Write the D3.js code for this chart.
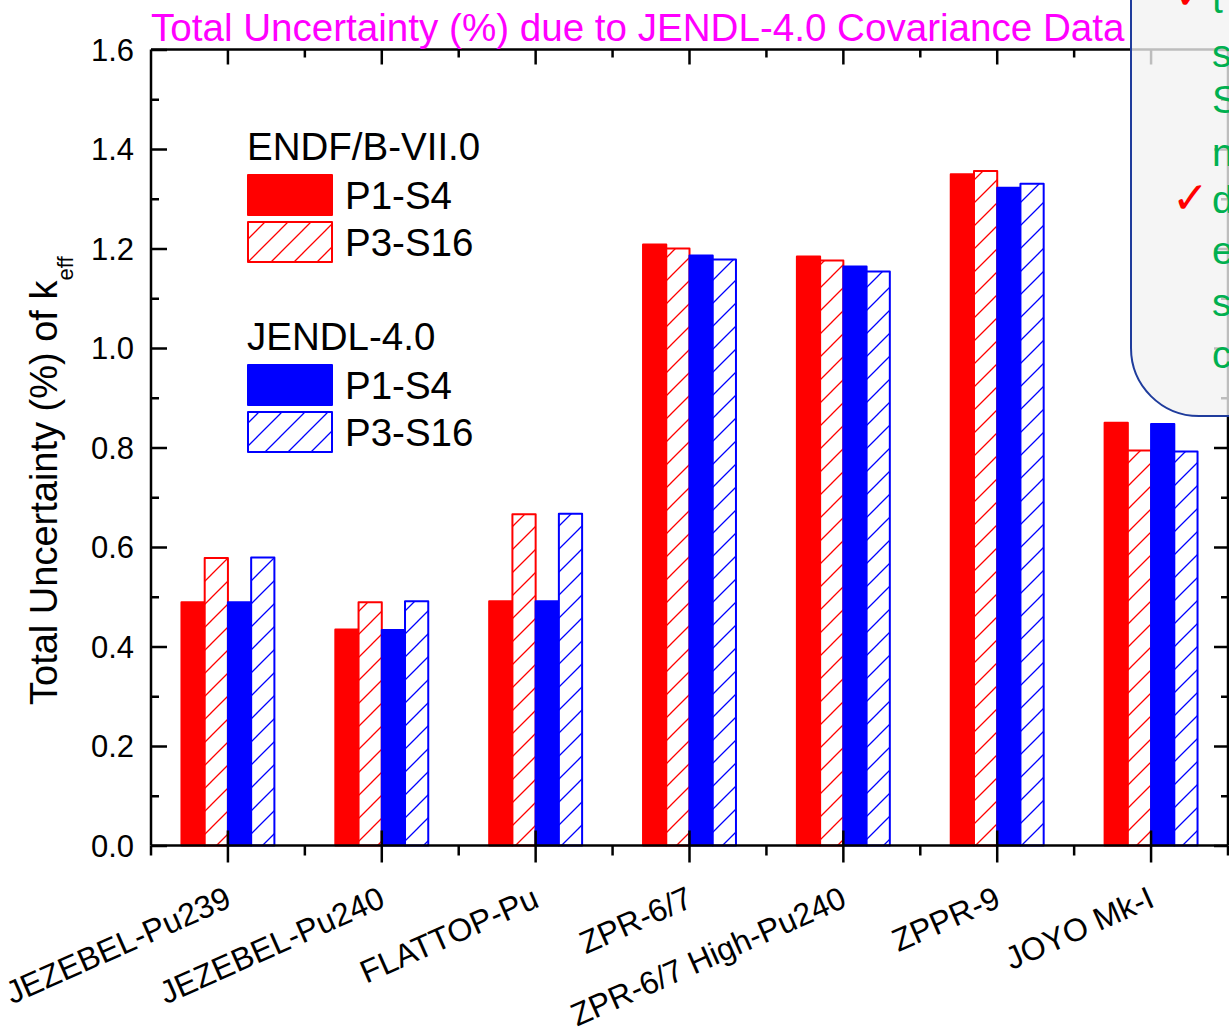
<!DOCTYPE html>
<html>
<head>
<meta charset="utf-8">
<script src="https://cdn.jsdelivr.net/npm/d3@7"></script>
<style>
  html, body { margin: 0; padding: 0; background: #fff; overflow: hidden; }
  svg { display: block; font-family: "Liberation Sans", Arial, sans-serif; }
</style>
</head>
<body>
<svg id="chart" width="1229" height="1028"></svg>
<script>
// ---- data ----
const categories = ["JEZEBEL-Pu239", "JEZEBEL-Pu240", "FLATTOP-Pu", "ZPR-6/7", "ZPR-6/7 High-Pu240", "ZPPR-9", "JOYO Mk-I"];
const endfP1S4   = [0.489, 0.434, 0.491, 1.208, 1.184, 1.349, 0.850];
const endfP3S16  = [0.578, 0.489, 0.666, 1.200, 1.176, 1.356, 0.794];
const jendlP1S4  = [0.489, 0.433, 0.491, 1.186, 1.164, 1.322, 0.847];
const jendlP3S16 = [0.579, 0.491, 0.667, 1.178, 1.154, 1.330, 0.792];
const seriesNames = ["ENDF P1-S4", "ENDF P3-S16", "JENDL P1-S4", "JENDL P3-S16"];
const yTicks = [0, 0.2, 0.4, 0.6, 0.8, 1.0, 1.2, 1.4, 1.6];
const yMinorTicks = [0.1, 0.3, 0.5, 0.7, 0.9, 1.1, 1.3, 1.5];
const titleText = "Total Uncertainty (%) due to JENDL-4.0 Covariance Data";
const calloutLetters = ["t", "s", "S", "n", "d", "e", "s", "c"];
const calloutBaselines = [13, 67, 113, 166, 213, 264, 316, 368];

const series = [
  { name: seriesNames[0], values: endfP1S4,   color: "#ff0000", hatch: false },
  { name: seriesNames[1], values: endfP3S16,  color: "#ff0000", hatch: true },
  { name: seriesNames[2], values: jendlP1S4,  color: "#0000ff", hatch: false },
  { name: seriesNames[3], values: jendlP3S16, color: "#0000ff", hatch: true }
];

const svg = d3.select("#chart");
const L = 151, R = 1228, T = 49.5, B = 845.5;

const x = d3.scaleBand().domain(categories).range([L, R]).paddingInner(0.396).paddingOuter(0.198);
const xs = d3.scaleBand().domain(seriesNames).range([0, x.bandwidth()]);
const y = d3.scaleLinear().domain([0, 1.6]).range([B, T]);
const step = x.step();

// ---- hatch patterns ----
const defs = svg.append("defs");
function hatch(id, color) {
  const p = defs.append("pattern").attr("id", id).attr("patternUnits", "userSpaceOnUse")
    .attr("x", 4).attr("y", 0).attr("width", 23).attr("height", 23);
  p.append("rect").attr("width", 23).attr("height", 23).attr("fill", "#fff");
  p.append("path").attr("d", "M-2,25 L25,-2 M-2,2 L2,-2 M21,25 L25,21")
    .attr("stroke", color).attr("stroke-width", 1.3).attr("fill", "none");
}
hatch("hatchRed", "#ff0000");
hatch("hatchBlue", "#0000ff");
const patId = c => c === "#ff0000" ? "url(#hatchRed)" : "url(#hatchBlue)";

// ---- bars ----
const gBars = svg.append("g");
series.forEach(s => {
  gBars.selectAll(null).data(categories).enter().append("rect")
    .attr("x", d => x(d) + xs(s.name))
    .attr("width", xs.bandwidth())
    .attr("y", (d, i) => y(s.values[i]))
    .attr("height", (d, i) => y(0) - y(s.values[i]))
    .attr("fill", s.hatch ? patId(s.color) : s.color)
    .attr("stroke", s.color).attr("stroke-width", 2).attr("stroke-linejoin", "round");
});

// ---- axes ----
const sw = 2.5;
const yAxisL = d3.axisRight(y).tickValues(yTicks).tickSize(16).tickFormat("");
const gl = svg.append("g").attr("transform", `translate(${L},0)`).call(yAxisL);
const ylm = d3.axisRight(y).tickValues(yMinorTicks).tickSize(8).tickFormat("");
const glm = svg.append("g").attr("transform", `translate(${L},0)`).call(ylm);
const yAxisR = d3.axisLeft(y).tickValues(yTicks).tickSize(14).tickFormat("");
const gr = svg.append("g").attr("transform", `translate(${R},0)`).call(yAxisR);
const yrm = d3.axisLeft(y).tickValues(yMinorTicks).tickSize(7).tickFormat("");
const grm = svg.append("g").attr("transform", `translate(${R},0)`).call(yrm);
const xTop = d3.axisBottom(x).tickSize(15).tickFormat("");
const gt = svg.append("g").attr("transform", `translate(0,${T})`).call(xTop);
const gtm = svg.append("g").attr("transform", `translate(0,${T})`);
const xBot = d3.axisBottom(x).tickSize(17).tickFormat("");
const gb = svg.append("g").attr("transform", `translate(0,${B})`).call(xBot);
gb.selectAll(".tick line").attr("y1", -15);
const gbm = svg.append("g").attr("transform", `translate(0,${B})`);
const bounds = d3.range(categories.length + 1).map(i => L + i * step);
gbm.selectAll(null).data(bounds).enter().append("line")
  .attr("x1", d => d).attr("x2", d => d).attr("y1", 0).attr("y2", 10);
gtm.selectAll(null).data(bounds.slice(1, -1)).enter().append("line")
  .attr("x1", d => d).attr("x2", d => d).attr("y1", 0).attr("y2", 8);

[gl, glm, gr, grm, gt, gb].forEach(g => {
  g.select(".domain").attr("stroke", "#000").attr("stroke-width", sw);
  g.selectAll(".tick line").attr("stroke", "#000").attr("stroke-width", sw);
});
[glm, grm].forEach(g => g.select(".domain").remove());
[gl, gr].forEach(g => g.select(".domain").attr("d", `M0,${T}V${B}`));
[gt, gb].forEach(g => g.select(".domain").attr("d", `M${L},0H${R}`));
[gbm, gtm].forEach(g => g.selectAll("line").attr("stroke", "#000").attr("stroke-width", sw));

// y tick labels
svg.append("g").selectAll(null).data(yTicks).enter().append("text")
  .attr("x", 134).attr("y", d => y(d)).attr("dy", "0.36em")
  .attr("text-anchor", "end").attr("font-size", 31).attr("fill", "#000")
  .text(d => d3.format(".1f")(d));

// x tick labels
svg.append("g").selectAll(null).data(categories).enter().append("text")
  .attr("transform", d => `translate(${x(d) + x.bandwidth() / 2 + 5},906) rotate(-24)`)
  .attr("text-anchor", "end").attr("font-size", 32).attr("fill", "#000")
  .text(d => d);

// y axis title
const yt = svg.append("text").attr("transform", "translate(57,705) rotate(-90)")
  .attr("font-size", 38).attr("fill", "#000");
yt.append("tspan").text("Total Uncertainty (%) of k");
yt.append("tspan").attr("font-size", 22).attr("dy", 16).text("eff");

// title
svg.append("text").attr("x", 151).attr("y", 41).attr("font-size", 38.6)
  .attr("fill", "#ff00ff").text(titleText);

// ---- legend ----
const legendGroups = [
  { title: "ENDF/B-VII.0", color: "#ff0000", y0: 160, items: [seriesNames[0], seriesNames[1]] },
  { title: "JENDL-4.0", color: "#0000ff", y0: 350, items: [seriesNames[2], seriesNames[3]] }
];
const lg = svg.append("g");
legendGroups.forEach(grp => {
  lg.append("text").attr("x", 247).attr("y", grp.y0).attr("font-size", 38.5).attr("fill", "#000").text(grp.title);
  grp.items.forEach((nm, k) => {
    const s = series.find(q => q.name === nm);
    const top = grp.y0 + 15 + k * 47;
    lg.append("rect").attr("x", 248).attr("y", top).attr("width", 84).attr("height", 40)
      .attr("fill", s.hatch ? patId(s.color) : s.color)
      .attr("stroke", s.color).attr("stroke-width", 2).attr("stroke-linejoin", "round");
    lg.append("text").attr("x", 345).attr("y", top + 34).attr("font-size", 38.5).attr("fill", "#000")
      .text(nm.split(" ")[1]);
  });
});

// ---- callout box (partially visible) ----
const cg = svg.append("g");
cg.append("rect").attr("x", 1131).attr("y", -120).attr("width", 400).attr("height", 536)
  .attr("rx", 68).attr("ry", 68)
  .attr("fill", "#f2f2f2").attr("fill-opacity", 0.78)
  .attr("stroke", "#1f3c9c").attr("stroke-width", 2);
cg.selectAll(null).data(calloutLetters).enter().append("text")
  .attr("x", 1212).attr("y", (d, i) => calloutBaselines[i])
  .attr("font-size", 39).attr("fill", "#00b050").text(d => d);
cg.append("text").attr("x", 1174).attr("y", 9).attr("font-size", 44)
  .attr("font-family", "DejaVu Sans").attr("fill", "#ff0000").text("\u2713");
cg.append("text").attr("x", 1172).attr("y", 213).attr("font-size", 44)
  .attr("font-family", "DejaVu Sans").attr("fill", "#ff0000").text("\u2713");
</script>
</body>
</html>
